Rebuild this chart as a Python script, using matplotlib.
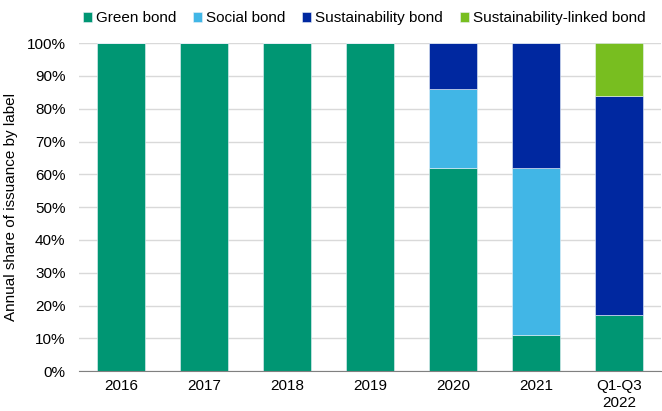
import matplotlib.pyplot as plt
import numpy as np
from matplotlib.ticker import PercentFormatter

plt.rcParams['font.family'] = ['Liberation Sans', 'DejaVu Sans']

years = ["2016", "2017", "2018", "2019", "2020", "2021", "Q1-Q3\n2022"]
green = [100, 100, 100, 100, 62, 11, 17]
social = [0, 0, 0, 0, 24, 51, 0]
sustainability = [0, 0, 0, 0, 14, 38, 67]
sust_linked = [0, 0, 0, 0, 0, 0, 16]

series = [
    ("Green bond", green, "#009673"),
    ("Social bond", social, "#41B6E6"),
    ("Sustainability bond", sustainability, "#0028A0"),
    ("Sustainability-linked bond", sust_linked, "#78BE20"),
]

fig = plt.figure(figsize=(6.62, 4.11), dpi=100)
ax = fig.add_axes([0.120, 0.097, 0.878, 0.798])

x = np.arange(len(years))
bottom = np.zeros(len(years))
for name, vals, col in series:
    vals = np.array(vals, dtype=float)
    ax.bar(x, vals, width=0.58, bottom=bottom, color=col, label=name,
           edgecolor="#e8f0f8", linewidth=0.4, zorder=3)
    bottom += vals

ax.set_xlim(-0.5, len(years) - 0.5)
ax.set_ylim(0, 100)
ax.set_yticks(range(0, 101, 10))
ax.yaxis.set_major_formatter(PercentFormatter(decimals=0))
ax.set_xticks(x)
ax.set_xticklabels(years, fontsize=11)
ax.tick_params(axis="y", labelsize=11, length=0, pad=10)
ax.tick_params(axis="x", length=0, pad=6)
ax.grid(axis="y", color="#d9d9d9", linewidth=1, zorder=0)
for s in ["top", "right", "left"]:
    ax.spines[s].set_visible(False)
ax.spines["bottom"].set_color("#808080")
ax.spines["bottom"].set_zorder(4)
ax.set_ylabel("Annual share of issuance by label", fontsize=11, labelpad=6)

fig.legend(loc="upper center", bbox_to_anchor=(0.55, 0.995), ncol=4, frameon=False,
           fontsize=11, handlelength=0.6, handleheight=0.6, handletextpad=0.25,
           columnspacing=1.1, borderaxespad=0.2)

fig.savefig("out.png", dpi=100)
